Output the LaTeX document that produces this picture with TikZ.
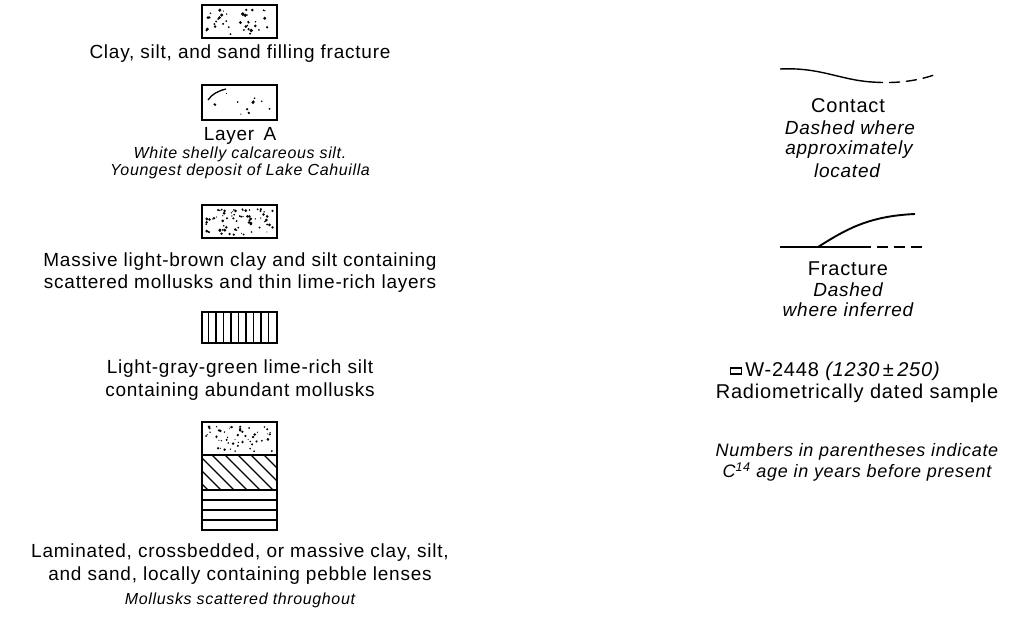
\documentclass[tikz,border=0pt]{standalone}
\usepackage{fontspec}
\setmainfont{Liberation Sans}[LetterSpace=4]
\begin{document}
\begin{tikzpicture}[x=1pt,y=-1pt,
  legbox/.style={draw, line width=1.8pt, minimum width=75pt, inner sep=0pt},
  lab/.style={font=\fontsize{19}{22}\selectfont, inner sep=0pt},
  note/.style={font=\fontsize{16}{18}\selectfont\itshape, inner sep=0pt},
  rlab/.style={font=\fontsize{20}{24}\selectfont, inner sep=0pt},
  rnote/.style={font=\fontsize{19}{21}\selectfont\itshape, inner sep=0pt},
  snote/.style={font=\fontsize{18}{20}\selectfont\itshape, inner sep=0pt},
  ln/.style={line width=1.4pt},
  dsh/.style={line width=1.4pt, dash pattern=on 11pt off 6pt}
]
\useasboundingbox (0,0) rectangle (1019,622);

% ---------- left column ----------
% box 1
\node[legbox, minimum height=33pt] (b1) at (239.5,21.5) {};
\pgfmathsetseed{11}
\foreach \i in {1,...,40}{
  \pgfmathsetmacro\dx{206+rnd*67}\pgfmathsetmacro\dy{9+rnd*26}\pgfmathsetmacro\rr{0.6+rnd*1.4}
  \fill (\dx,\dy) circle[radius=\rr pt];}
\node[lab] (t1) at (240,54) {Clay, silt, and sand filling fracture};

% box 2
\node[legbox, minimum height=35pt] (b2) at (239.5,102.5) {};
\draw[line width=1.3pt] (208,100) .. controls (212,94) and (218,91) .. (226,89);
\pgfmathsetseed{5}
\foreach \i in {1,...,12}{
  \pgfmathsetmacro\dx{212+rnd*60}\pgfmathsetmacro\dy{92+rnd*24}\pgfmathsetmacro\rr{0.6+rnd*1.0}
  \fill (\dx,\dy) circle[radius=\rr pt];}
\node[lab] (t2) at (240,136) {Layer\, A};
\node[note] (t2a) at (240,154) {White shelly calcareous silt.};
\node[note] (t2b) at (240,171) {Youngest deposit of Lake Cahuilla};

% box 3
\node[legbox, minimum height=33pt] (b3) at (239.5,221.5) {};
\pgfmathsetseed{23}
\foreach \i in {1,...,75}{
  \pgfmathsetmacro\dx{206+rnd*67}\pgfmathsetmacro\dy{209+rnd*26}\pgfmathsetmacro\rr{0.5+rnd*1.1}
  \fill (\dx,\dy) circle[radius=\rr pt];}
\node[lab] (t3a) at (240,262) {Massive light-brown clay and silt containing};
\node[lab] (t3b) at (240,284) {scattered mollusks and thin lime-rich layers};

% box 4
\node[legbox, minimum height=31pt] (b4) at (239.5,327.5) {};
\foreach \k in {1,...,9}
  \draw[line width=1.3pt] ([xshift=\k*7.5pt]b4.north west) -- ([xshift=\k*7.5pt]b4.south west);
\node[lab] (t4a) at (240,369) {Light-gray-green lime-rich silt};
\node[lab] (t4b) at (240,392) {containing abundant mollusks};

% box 5
\node[legbox, minimum height=108pt] (b5) at (239.5,476) {};
\pgfmathsetseed{41}
\foreach \i in {1,...,55}{
  \pgfmathsetmacro\dx{206+rnd*67}\pgfmathsetmacro\dy{426+rnd*26}\pgfmathsetmacro\rr{0.5+rnd*0.9}
  \fill (\dx,\dy) circle[radius=\rr pt];}
\draw[line width=1.4pt] (202,455) -- (277,455);
\draw[line width=1.4pt] (202,490) -- (277,490);
\begin{scope}
  \clip (202,455) rectangle (277,490);
  \foreach \h in {160,173,...,290}
    \draw[line width=1.4pt] (\h,455) -- (\h+35,490);
\end{scope}
\foreach \yy in {500,510,520}
  \draw[line width=1.3pt] (202,\yy) -- (277,\yy);
\node[lab] (t5a) at (240,553) {Laminated, crossbedded, or massive clay, silt,};
\node[lab] (t5b) at (240,576) {and sand, locally containing pebble lenses};
\node[note] (t5c) at (240,600) {Mollusks scattered throughout};

% ---------- right column ----------
% contact
\coordinate (c0) at (780,69);
\coordinate (c1) at (872,82);
\coordinate (c2) at (937,74);
\draw[ln] (c0) .. controls (820,67) and (840,80) .. (c1);
\draw[dsh] (c1) .. controls (900,84) and (920,80) .. (c2);
\node[rlab] (r1) at (848,106) {Contact};
\node[rnote] (r1a) at (850,128) {Dashed where};
\node[rnote] (r1b) at (849,150) {approximately};
\node[rnote] (r1c) at (847,171) {located};

% fracture
\coordinate (f0) at (780,247);
\coordinate (f1) at (860,247);
\coordinate (f2) at (927,247);
\coordinate (fc0) at (818,247);
\coordinate (fc1) at (915,214);
\draw[ln] (f0) -- (f1);
\draw[dsh] (f1) -- (f2);
\draw[line width=1.9pt] (fc0) .. controls (845,230) and (868,216) .. (fc1);
\node[rlab] (r2) at (848,269) {Fracture};
\node[rnote] (r2a) at (848,290) {Dashed};
\node[rnote] (r2b) at (848,310) {where inferred};

% sample
\node[draw, line width=1.1pt, minimum width=11pt, minimum height=6pt, inner sep=0pt] (smp) at (736,371) {};
\node[rlab, anchor=west] (smpt) at ([xshift=3pt]smp.east) {W-2448 \textit{(1230\,±\,250)}};
\node[rlab] (r3) at (857,393) {Radiometrically dated sample};
\node[snote] (r4a) at (857,452) {Numbers in parentheses indicate};
\node[snote] (r4b) at (857,472) {C\textsuperscript{14} age in years before present};
\end{tikzpicture}
\end{document}
